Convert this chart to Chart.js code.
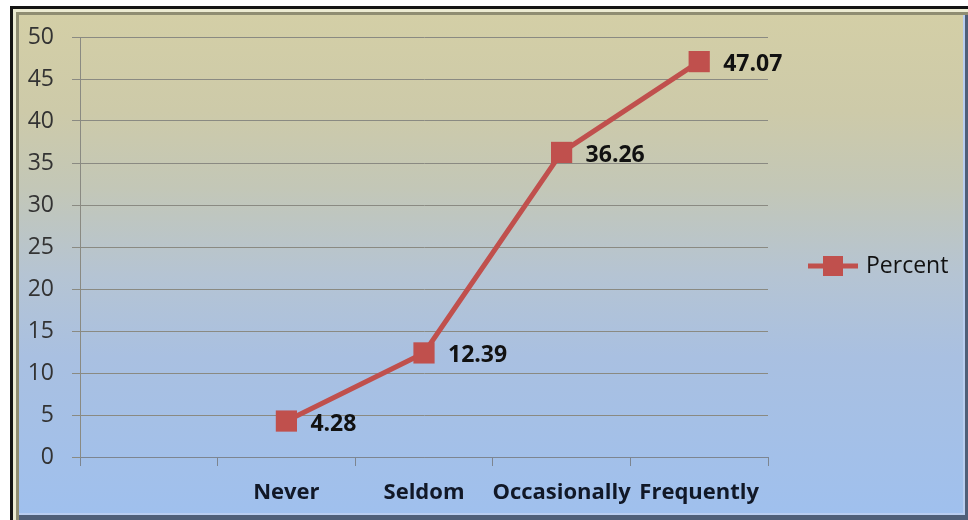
<!DOCTYPE html>
<html>
<head>
<meta charset="utf-8">
<script src="https://cdn.jsdelivr.net/npm/chart.js@4/dist/chart.umd.min.js"></script>
<style>
  html, body { margin: 0; padding: 0; background: #ffffff; }
  body { width: 968px; height: 520px; position: relative; overflow: hidden; }
  #frame {
    position: absolute; left: 10px; top: 6px; width: 958px; height: 514px;
    box-sizing: border-box;
    border-top: 3px solid #141414; border-left: 3px solid #141414;
    background: linear-gradient(to bottom, #d4cfa6 0%, #cdcaa9 20%, #c3c7b7 35%, #b5c4d3 52%, #a9c0e1 68%, #9fc0ee 100%);
    box-shadow: inset 3px 3px 0 #ecebd2, inset 6px 6px 0 #8f8d72, inset -3px -5px 0 #4f5f78, inset -5px -7px 0 #b9cdef;
  }
  #wrap { position: absolute; left: 0; top: 0; width: 968px; height: 520px; }
</style>
</head>
<body>
<div id="frame"></div>
<div id="wrap"><canvas id="c" width="968" height="520"></canvas></div>
<script>
// Survey responses: share of respondents per frequency category
const categories = ['', 'Never', 'Seldom', 'Occasionally', 'Frequently'];
const percentValues = [null, 4.28, 12.39, 36.26, 47.07];
const seriesName = 'Percent';
const yTicks = [0, 5, 10, 15, 20, 25, 30, 35, 40, 45, 50];

const lineColor = '#c0504d';
const fontFamily = '"Open Sans", Lato, "Liberation Sans", sans-serif';

// Value labels to the right of each marker
const valueLabels = {
  id: 'valueLabels',
  afterDatasetsDraw(chart) {
    const ctx = chart.ctx;
    const meta = chart.getDatasetMeta(0);
    ctx.save();
    ctx.font = 'bold 23px ' + fontFamily;
    ctx.fillStyle = '#111111';
    ctx.textAlign = 'left';
    ctx.textBaseline = 'middle';
    meta.data.forEach((pt, i) => {
      const v = percentValues[i];
      if (v === null || v === undefined) return;
      ctx.fillText(v.toFixed(2), pt.x + 24, pt.y + 3);
    });
    ctx.restore();
  }
};

// Legend on the right: line segment with square marker and series name
const sideLegend = {
  id: 'sideLegend',
  afterDraw(chart) {
    const ctx = chart.ctx;
    const ds = chart.data.datasets[0];
    const cy = 266;
    const x0 = 808, x1 = 858;
    ctx.save();
    ctx.strokeStyle = ds.borderColor;
    ctx.lineWidth = ds.borderWidth;
    ctx.beginPath();
    ctx.moveTo(x0, cy);
    ctx.lineTo(x1, cy);
    ctx.stroke();
    ctx.fillStyle = ds.pointBackgroundColor;
    ctx.fillRect((x0 + x1) / 2 - 10, cy - 10, 20, 20);
    ctx.font = '23px ' + fontFamily;
    ctx.fillStyle = '#111111';
    ctx.textAlign = 'left';
    ctx.textBaseline = 'middle';
    ctx.fillText(ds.label, 866, cy);
    ctx.restore();
  }
};

new Chart(document.getElementById('c'), {
  type: 'line',
  data: {
    labels: categories,
    datasets: [{
      label: seriesName,
      data: percentValues,
      borderColor: lineColor,
      backgroundColor: lineColor,
      borderWidth: 5,
      pointStyle: 'rect',
      pointRadius: 15,
      pointHoverRadius: 15,
      pointBackgroundColor: lineColor,
      pointBorderColor: lineColor,
      pointBorderWidth: 0,
      tension: 0,
      spanGaps: true
    }]
  },
  options: {
    responsive: false,
    animation: false,
    events: [],
    layout: { padding: { left: 0, right: 200, top: 37, bottom: 0 } },
    plugins: {
      legend: { display: false },
      tooltip: { enabled: false }
    },
    scales: {
      x: {
        offset: true,
        grid: {
          offset: true,
          drawOnChartArea: false,
          drawTicks: true,
          tickLength: 9,
          color: '#7d8590',
          lineWidth: 1
        },
        border: { color: '#7d8590', width: 1 },
        ticks: {
          color: '#111827',
          font: { family: fontFamily, size: 22, weight: 'bold' },
          padding: 14,
          maxRotation: 0,
          autoSkip: false
        },
        afterFit(scale) { scale.height = 63; }
      },
      y: {
        min: 0,
        max: 50,
        afterBuildTicks(scale) { scale.ticks = yTicks.map(v => ({ value: v })); },
        grid: {
          color: '#8a8a82',
          lineWidth: 1,
          tickLength: 8
        },
        border: { color: '#8a8a82', width: 1 },
        ticks: {
          color: '#333333',
          font: { family: fontFamily, size: 23 },
          padding: 18
        },
        afterFit(scale) { scale.width = 80; }
      }
    }
  },
  plugins: [valueLabels, sideLegend]
});
</script>
</body>
</html>
